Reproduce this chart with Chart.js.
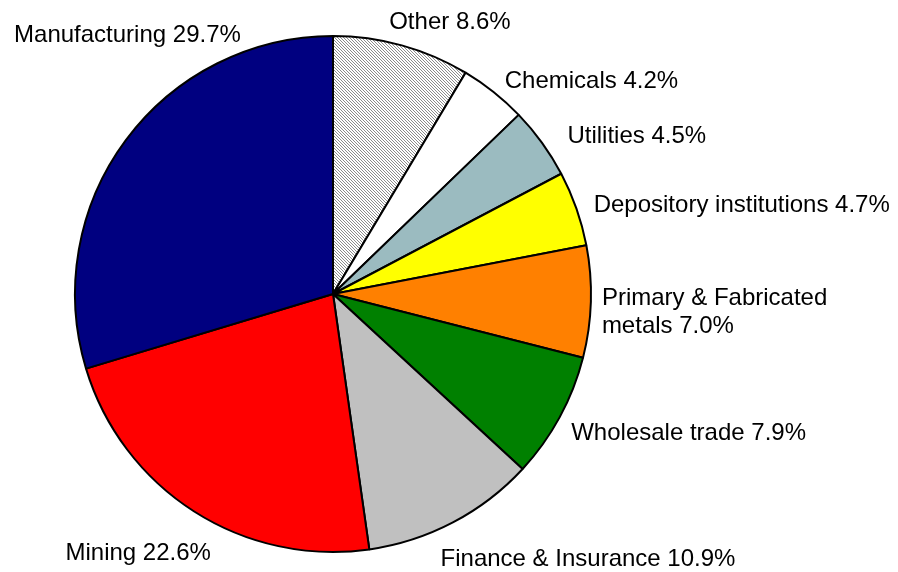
<!DOCTYPE html>
<html>
<head>
<meta charset="utf-8">
<script src="https://cdn.jsdelivr.net/npm/chart.js@4"></script>
<style>
    html, body { margin: 0; padding: 0; background: #fff; }
    #wrap { width: 898px; height: 572px; }
</style>
</head>
<body>
<div id="wrap"><canvas id="pieChart" width="898" height="572"></canvas></div>
<script>
const categories = [
    "Other", "Chemicals", "Utilities", "Depository institutions",
    "Primary & Fabricated metals", "Wholesale trade", "Finance & Insurance",
    "Mining", "Manufacturing",
];
const shares = [8.6, 4.2, 4.5, 4.7, 7.0, 7.9, 10.9, 22.6, 29.7];
const sliceColors = [
    null, "#ffffff", "#9bbbc0", "#ffff00", "#ff8000",
    "#008000", "#c0c0c0", "#ff0000", "#000080",
];

// label text lines, wrapped the way the original has them
const labelLines = [
    ["Other 8.6%"],
    ["Chemicals 4.2%"],
    ["Utilities 4.5%"],
    ["Depository institutions 4.7%"],
    ["Primary & Fabricated", "metals 7.0%"],
    ["Wholesale trade 7.9%"],
    ["Finance & Insurance 10.9%"],
    ["Mining 22.6%"],
    ["Manufacturing 29.7%"],
];

// the gray diagonal hatch on "Other"
function hatchPattern() {
    const c = document.createElement("canvas");
    c.width = 3;
    c.height = 3;
    const g = c.getContext("2d");
    g.fillStyle = "#ffffff";
    g.fillRect(0, 0, 3, 3);
    g.fillStyle = "#8c8c8c";
    for (let i = 0; i < 3; i++) g.fillRect(i, i, 1, 1);
    return g.createPattern(c, "repeat");
}

// where each label sits relative to its slice: extra radius, x/y nudge, alignment
const labelPlacement = [
    { gap: 24, dx: -19, dy: 0, align: "left" },
    { gap: 18, dx: 0, dy: 3, align: "left" },
    { gap: 14, dx: 14, dy: 2, align: "left" },
    { gap: 14, dx: 4, dy: 1, align: "left" },
    { gap: 11, dx: 0, dy: 10, align: "left" },
    { gap: 29, dx: -14, dy: 2, align: "left" },
    { gap: 38, dx: -30, dy: 3, align: "left" },
    { gap: 47, dx: 42, dy: 2, align: "right" },
    { gap: 0, dx: 115, dy: -105, align: "right" },
];

const outsideLabels = {
    id: "outsideLabels",
    afterDraw(chart) {
        const ctx = chart.ctx;
        const arcs = chart.getDatasetMeta(0).data;
        ctx.save();
        ctx.font = "24px 'Liberation Sans', Arial, sans-serif";
        ctx.fillStyle = "#000";
        ctx.textBaseline = "middle";
        arcs.forEach((arc, i) => {
            const p = labelPlacement[i];
            const mid = (arc.startAngle + arc.endAngle) / 2;
            const r = arc.outerRadius + p.gap;
            let x = arc.x + Math.cos(mid) * r + p.dx;
            let y = arc.y + Math.sin(mid) * r + p.dy;
            ctx.textAlign = p.align;
            const lines = labelLines[i];
            const lh = 28;
            y -= (lines.length - 1) * lh / 2;
            lines.forEach((line, k) => ctx.fillText(line, x, y + k * lh));
        });
        ctx.restore();
    },
};

const colors = sliceColors.map((c) => c || hatchPattern());

new Chart(document.getElementById("pieChart"), {
    type: "pie",
    data: {
        labels: categories,
        datasets: [{
            data: shares,
            backgroundColor: colors,
            borderColor: "#000",
            borderWidth: 2,
        }],
    },
    options: {
        responsive: false,
        animation: false,
        layout: { padding: { left: 74, right: 306, top: 35, bottom: 19 } },
        plugins: {
            legend: { display: false },
            tooltip: { enabled: false },
        },
    },
    plugins: [outsideLabels],
});
</script>
</body>
</html>
